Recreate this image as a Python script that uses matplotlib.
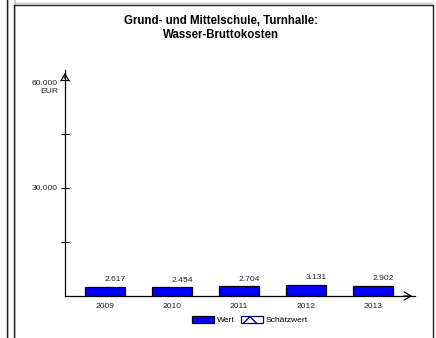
import matplotlib.pyplot as plt
from matplotlib.patches import Patch
from matplotlib.lines import Line2D

# datos del grafico
jahre = ['2009', '2010', '2011', '2012', '2013']
werte = [2617, 2454, 2704, 3131, 2902]
titel = 'Grund- und Mittelschule, Turnhalle:\nWasser-Bruttokosten'

plt.rcParams['font.family'] = ['Liberation Sans', 'DejaVu Sans']

W, H = 436, 338
fig = plt.figure(figsize=(W / 100, H / 100), dpi=100)
fig.patch.set_facecolor('white')

def fx(px):
    return px / W

def fy(py):
    return 1 - py / H

# marcos de los paneles (sombra gris + linea oscura)
for x0 in [8, 15]:
    fig.add_artist(Line2D([fx(x0), fx(x0)], [fy(0), fy(H)], color='#c8c8c8', lw=1.2))
fig.add_artist(Line2D([fx(7), fx(7)], [fy(0), fy(H)], color='#222222', lw=1.0))
fig.add_artist(Line2D([fx(14), fx(14)], [fy(4.5), fy(H)], color='#222222', lw=1.0))
fig.add_artist(Line2D([fx(14), fx(433)], [fy(4.5), fy(4.5)], color='#222222', lw=1.0))
fig.add_artist(Line2D([fx(433), fx(433)], [fy(4.5), fy(H)], color='#222222', lw=1.0))
fig.add_artist(Line2D([fx(15), fx(432)], [fy(3.3), fy(3.3)], color='#c8c8c8', lw=1.0))

fig.text(fx(221), fy(28), titel, ha='center', va='center', fontsize=8.3,
         fontweight='bold', linespacing=1.2)

ax = fig.add_axes([fx(65), fy(296), fx(415) - fx(65), fy(70) - fy(296)])
x = range(len(jahre))
ax.bar(x, werte, width=0.59, color='#0000ff', edgecolor='black', linewidth=0.9, zorder=3)
for i, v in zip(x, werte):
    ax.text(i + 0.15, v + 900, f'{v:,}'.replace(',', '.'), ha='center', va='bottom',
            fontsize=6.1, color='#222222')

ax.set_xlim(-0.6, 4.63)
ax.set_ylim(0, 60000 * 226 / 216)
for s in ['top', 'right']:
    ax.spines[s].set_visible(False)
ax.spines['left'].set_linewidth(0.9)
ax.spines['bottom'].set_linewidth(0.9)
ax.set_facecolor('none')

ax.set_xticks(list(x))
ax.set_xticklabels(jahre, fontsize=6.1, color='#222222')
ax.tick_params(axis='x', length=0, pad=5)
ax.set_yticks([30000, 60000])
ax.set_yticklabels(['30.000', '60.000\nEUR'], fontsize=6.1, color='#222222',
                   ha='right', va='center')
ax.set_yticks([15000, 45000], minor=True)
ax.tick_params(axis='y', which='both', direction='inout', length=6, width=0.8, pad=2)
lab = ax.get_yticklabels()[1]
lab.set_verticalalignment('top')
lab.set_multialignment('right')
ax.get_yticklabels()[1].set_y(60000)

# flechas de los ejes
ax.annotate('', xy=(0, 1.0), xytext=(0, 0.95), xycoords='axes fraction',
            arrowprops=dict(arrowstyle='->,head_length=0.5,head_width=0.3', lw=0.9, color='black'))
ax.annotate('', xy=(1.0, 0), xytext=(0.96, 0), xycoords='axes fraction',
            arrowprops=dict(arrowstyle='->,head_length=0.5,head_width=0.3', lw=0.9, color='black'))

handles = [Patch(facecolor='#0000ff', edgecolor='black', lw=0.9, label='Wert'),
           Patch(facecolor='white', edgecolor='#000080', hatch='/\\', lw=0.9, label='Schätzwert')]
leg = fig.legend(handles=handles, loc='center', bbox_to_anchor=(fx(250), fy(320)), ncol=2,
                 frameon=False, fontsize=6.1, handlelength=2.6, handleheight=1.0,
                 handletextpad=0.3, columnspacing=0.8)
leg.get_patches()[0].set_edgecolor('black')
leg.get_patches()[1].set_edgecolor('#000080')

fig.savefig('out.png', dpi=100)
